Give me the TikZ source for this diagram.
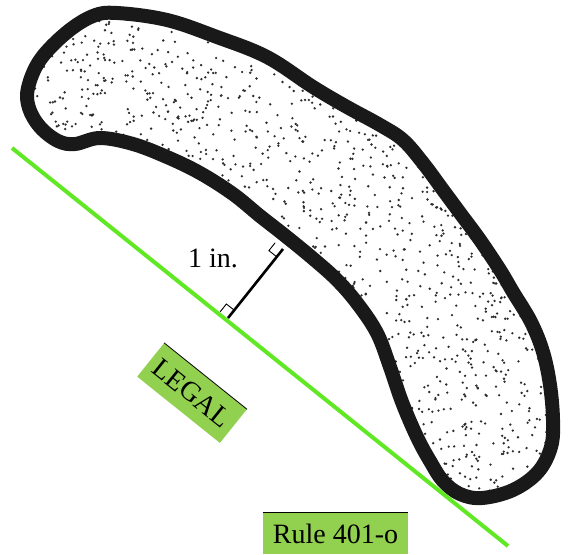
\documentclass[tikz,border=0pt]{standalone}
\usepackage{fontspec}
\setmainfont{Liberation Serif}
\usepackage{tikz}
\usetikzlibrary{calc}

\definecolor{linegreen}{RGB}{96,232,36}
\definecolor{boxgreen}{RGB}{146,208,80}
\definecolor{dotgray}{RGB}{45,45,45}

\tikzset{
  tag/.style={fill=boxgreen, inner sep=0pt, font=\fontsize{28}{31}\selectfont},
  rightmark/.style={black, line width=0.9pt},
}

% outline of the sand bunker, pixel units
\def\bunker{(117,13) (167,20) (217,37) (267,57) (313,87) (347,107) (380,125)
  (403,140) (423,163) (443,190) (460,213) (480,240) (500,270) (513,292)
  (531,322) (543,352) (550,385) (553,420) (551,447) (538,472) (513,490)
  (482,498) (460,494) (443,481) (430,461) (417,437) (402,402) (390,367)
  (377,333) (357,303) (336,279) (310,256) (283,234) (260,216) (233,194)
  (200,173) (167,157) (133,144) (100,138) (75,144) (58,141) (40,127)
  (29,108) (28,88) (40,60) (66,33) (93,16)}

\begin{document}
\begin{tikzpicture}[x=1pt, y=-1pt]
    \useasboundingbox (0,0) rectangle (569,554);
    % stipple inside the bunker
    \begin{scope}
        \clip plot[smooth cycle, tension=0.6] coordinates {\bunker};
        \pgfmathsetseed{401}
        \foreach \i in {1,...,2600}
            \fill [dotgray] ({20+540*rnd},{5+500*rnd}) circle (1.3);
    \end{scope}
    \draw [black!90, line width=14pt, line join=round] plot[smooth cycle, tension=0.6] coordinates {\bunker};

    % line of play and the 1 in. measure
    \coordinate (gA) at (12,148);
    \coordinate (gB) at (508,546);
    \draw [linegreen, line width=4pt] (gA) -- (gB);
    \coordinate (foot) at (228,318);
    \coordinate (edge) at (283,249);
    \draw [black, line width=2.6pt] (foot) -- (edge);
    \coordinate (fa) at ($(foot)!10pt!(gA)$);
    \coordinate (fb) at ($(foot)!10pt!(edge)$);
    \draw [rightmark] (fa) -- ($(fa)+(fb)-(foot)$) -- (fb);
    \coordinate (ea) at ($(edge)!10pt!(foot)$);
    \coordinate (eb) at ($(edge)+(fa)-(foot)$);
    \draw [rightmark] (ea) -- ($(ea)+(eb)-(edge)$) -- (eb);
    \node [anchor=base, font=\fontsize{28}{31}\selectfont] (inch) at (213,267) {1 in.};

    % labels
    \node [tag, rotate=-38.7, minimum width=106pt, minimum height=43pt] (legal) at (192,393) {LEGAL};
    \draw [black, line width=0.8pt] (legal.north west) -- (legal.north east);
    \node [tag, minimum width=145pt, minimum height=41pt] (rule) at (335.5,533.5) {Rule 401-o};
    \draw [black, line width=0.8pt] (rule.north west) -- (rule.north east);
\end{tikzpicture}
\end{document}
